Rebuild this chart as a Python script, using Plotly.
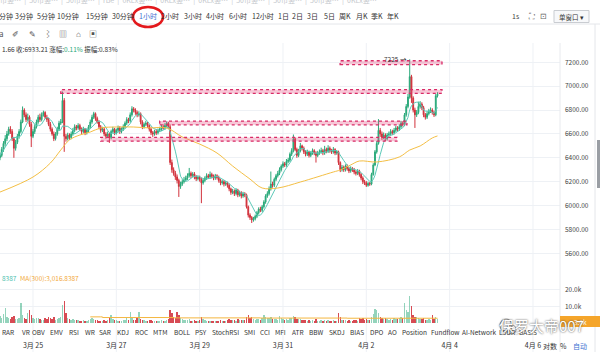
import pandas as pd
import plotly.graph_objects as go

# ---------------- data: BTC hourly candles, 2020-03-24 05:00 onward ----------------
open_ = [6400,6420,6470,6520,6560,6600,6640,6620,6560,6480,
         6530,6580,6620,6700,6800,6760,6720,6740,6680,6580,
         6620,6660,6700,6740,6720,6760,6780,6740,6720,6680,
         6640,6600,6560,6600,6640,6690,6700,6880,6580,6560,
         6590,6570,6600,6630,6660,6650,6670,6640,6620,6640,
         6610,6630,6660,6700,6740,6770,6730,6700,6660,6630,
         6640,6600,6580,6600,6570,6620,6640,6610,6630,6650,
         6620,6640,6660,6690,6720,6710,6760,6810,6800,6780,
         6760,6770,6700,6660,6680,6690,6670,6640,6610,6600,
         6620,6610,6630,6640,6660,6650,6670,6690,6660,6360,
         6300,6270,6240,6210,6160,6180,6200,6215,6230,6250,
         6270,6250,6265,6240,6225,6235,6220,6190,6210,6230,
         6250,6240,6260,6245,6230,6250,6235,6210,6190,6200,
         6180,6190,6170,6140,6110,6120,6100,6130,6090,6110,
         6080,6100,6090,5990,5920,5900,5880,5890,5910,5940,
         5970,5960,5990,6030,6080,6100,6140,6180,6170,6220,
         6250,6270,6300,6330,6350,6340,6370,6380,6430,6460,
         6560,6470,6420,6460,6500,6480,6450,6430,6450,6420,
         6440,6460,6440,6420,6440,6450,6460,6440,6470,6455,
         6480,6460,6450,6470,6440,6450,6360,6300,6320,6300,
         6330,6310,6290,6310,6300,6280,6270,6290,6260,6230,
         6200,6190,6170,6185,6180,6260,6340,6450,6520,6630,
         6600,6570,6590,6560,6590,6600,6620,6610,6630,6650,
         6640,6660,6690,6680,6760,6830,6910,7080,6900,6800,
         6760,6780,6830,6850,6820,6760,6740,6770,6790,6800,
         6780,6760,6920]
high = [6445,6490,6540,6590,6625,6660,6665,6640,6575,6550,
        6600,6640,6720,6830,6815,6780,6770,6755,6700,6640,
        6680,6720,6760,6770,6780,6795,6790,6760,6735,6700,
        6655,6620,6615,6660,6710,6725,6955,6900,6600,6610,
        6605,6620,6650,6680,6675,6690,6685,6655,6660,6650,
        6645,6675,6720,6760,6785,6780,6745,6715,6675,6660,
        6655,6615,6620,6610,6635,6660,6650,6645,6670,6665,
        6655,6680,6705,6740,6735,6780,6832,6825,6815,6795,
        6790,6780,6715,6695,6710,6700,6680,6655,6625,6635,
        6640,6645,6660,6675,6680,6690,6705,6700,6680,6385,
        6320,6290,6260,6225,6200,6220,6240,6250,6270,6315,
        6285,6280,6280,6255,6250,6250,6235,6225,6245,6270,
        6265,6285,6275,6260,6265,6262,6250,6225,6215,6212,
        6205,6200,6185,6150,6140,6135,6145,6140,6125,6120,
        6115,6112,6100,6000,5935,5912,5905,5925,5955,5985,
        5990,6005,6045,6095,6120,6160,6285,6200,6235,6265,
        6290,6320,6345,6370,6365,6390,6400,6445,6480,6595,
        6570,6485,6475,6525,6510,6495,6465,6468,6460,6455,
        6478,6472,6455,6458,6470,6485,6475,6500,6485,6505,
        6495,6475,6490,6480,6465,6460,6370,6340,6335,6345,
        6345,6325,6328,6322,6315,6295,6305,6300,6272,6245,
        6215,6205,6200,6198,6275,6355,6465,6540,6724,6650,
        6620,6612,6605,6608,6620,6640,6635,6650,6668,6665,
        6680,6710,6705,6775,6850,6935,7225,7095,6915,6820,
        6800,6870,6875,6865,6835,6775,6790,6810,6822,6815,
        6795,6935,6950]
low = [6380,6405,6450,6500,6540,6585,6600,6540,6400,6460,
       6515,6560,6605,6690,6740,6700,6705,6660,6490,6565,
       6600,6645,6685,6700,6705,6745,6725,6700,6665,6620,
       6585,6540,6545,6585,6625,6675,6690,6450,6535,6545,
       6550,6555,6585,6615,6630,6635,6625,6600,6605,6590,
       6595,6615,6645,6685,6725,6710,6685,6640,6610,6615,
       6580,6560,6565,6525,6555,6605,6590,6595,6615,6600,
       6605,6625,6645,6675,6690,6695,6745,6780,6760,6740,
       6745,6680,6640,6645,6665,6650,6620,6590,6575,6585,
       6590,6595,6615,6625,6635,6635,6655,6640,6340,6275,
       6250,6215,6185,6072,6140,6165,6185,6200,6215,6235,
       6230,6235,6220,6205,6210,6200,6020,6175,6195,6215,
       6222,6225,6228,6212,6215,6218,6192,6170,6175,6160,
       6165,6150,6120,6090,6095,6080,6085,6070,6075,6060,
       6065,6070,5975,5900,5880,5854,5865,5875,5895,5925,
       5945,5945,5975,6015,6065,6085,6125,6150,6155,6205,
       6235,6255,6285,6315,6322,6325,6355,6365,6415,6445,
       6455,6400,6405,6445,6462,6432,6412,6415,6402,6405,
       6425,6422,6360,6405,6425,6435,6422,6425,6438,6440,
       6442,6432,6435,6422,6425,6340,6280,6285,6282,6285,
       6292,6272,6275,6282,6262,6252,6255,6242,6212,6180,
       6172,6156,6158,6165,6170,6250,6330,6435,6510,6575,
       6550,6555,6540,6545,6575,6585,6592,6595,6615,6622,
       6625,6645,6662,6665,6745,6815,6895,6860,6780,6650,
       6742,6765,6812,6800,6740,6720,6725,6755,6775,6762,
       6742,6748,6905]
close = [6420,6470,6520,6560,6600,6640,6620,6560,6480,6530,
         6580,6620,6700,6800,6760,6720,6740,6680,6580,6620,
         6660,6700,6740,6720,6760,6780,6740,6720,6680,6640,
         6600,6560,6600,6640,6690,6700,6880,6580,6560,6590,
         6570,6600,6630,6660,6650,6670,6640,6620,6640,6610,
         6630,6660,6700,6740,6770,6730,6700,6660,6630,6640,
         6600,6580,6600,6570,6620,6640,6610,6630,6650,6620,
         6640,6660,6690,6720,6710,6760,6810,6800,6780,6760,
         6770,6700,6660,6680,6690,6670,6640,6610,6600,6620,
         6610,6630,6640,6660,6650,6670,6690,6660,6360,6300,
         6270,6240,6210,6160,6180,6200,6215,6230,6250,6270,
         6250,6265,6240,6225,6235,6220,6190,6210,6230,6250,
         6240,6260,6245,6230,6250,6235,6210,6190,6200,6180,
         6190,6170,6140,6110,6120,6100,6130,6090,6110,6080,
         6100,6090,5990,5920,5900,5880,5890,5910,5940,5970,
         5960,5990,6030,6080,6100,6140,6180,6170,6220,6250,
         6270,6300,6330,6350,6340,6370,6380,6430,6460,6560,
         6470,6420,6460,6500,6480,6450,6430,6450,6420,6440,
         6460,6440,6420,6440,6450,6460,6440,6470,6455,6480,
         6460,6450,6470,6440,6450,6360,6300,6320,6300,6330,
         6310,6290,6310,6300,6280,6270,6290,6260,6230,6200,
         6190,6170,6185,6180,6260,6340,6450,6520,6630,6600,
         6570,6590,6560,6590,6600,6620,6610,6630,6650,6640,
         6660,6690,6680,6760,6830,6910,7080,6900,6800,6760,
         6780,6830,6850,6820,6760,6740,6770,6790,6800,6780,
         6760,6920,6933]
volume_k = [4.5,3.0,5.5,9.0,4.0,3.2,2.5,3.8,4.5,2.8,
            2.6,3.0,12.0,5.0,3.5,2.8,6.0,7.7,5.0,3.0,
            2.5,3.0,3.4,2.8,2.2,2.0,3.5,2.4,4.0,3.0,
            2.6,3.8,2.2,2.5,3.0,4.0,11.0,13.0,6.0,3.0,
            2.6,2.0,2.4,2.0,1.8,2.2,1.6,1.5,1.8,1.5,
            1.4,2.0,2.8,3.0,2.4,2.2,1.8,1.6,1.5,1.7,
            2.0,1.6,1.8,3.5,5.0,2.5,2.0,1.8,1.5,1.6,
            1.4,1.8,2.2,3.0,2.0,6.5,3.0,2.2,2.0,3.0,
            6.5,2.5,2.2,1.8,1.5,1.6,2.2,1.8,1.5,1.4,
            1.3,1.6,1.4,1.8,1.5,1.6,2.0,2.5,8.0,6.0,
            4.0,3.5,6.6,5.0,3.0,2.5,2.0,2.2,1.8,2.4,
            1.6,1.5,1.8,1.4,1.6,2.0,4.0,2.5,1.8,1.5,
            1.4,1.6,1.3,1.5,1.4,1.2,1.6,1.8,1.4,1.7,
            1.5,2.0,2.6,2.2,1.8,2.0,1.6,2.4,1.8,2.2,
            1.8,2.0,4.0,5.0,3.0,3.6,2.6,2.0,2.4,2.8,
            2.2,3.0,5.0,4.0,3.2,3.0,3.6,2.4,2.8,2.6,
            2.2,4.5,3.0,2.6,2.0,2.4,2.2,3.0,3.2,4.2,
            3.6,2.8,2.4,2.6,2.0,1.8,2.2,1.6,1.8,1.5,
            1.8,1.6,2.4,1.5,1.4,1.8,1.5,2.0,1.6,2.2,
            1.6,1.5,1.8,1.6,1.4,6.0,3.6,2.2,1.8,2.0,
            1.6,1.8,1.5,1.6,2.0,1.8,1.5,3.4,2.6,3.0,
            2.2,2.4,1.8,2.0,4.0,5.5,8.7,8.2,6.0,4.0,
            3.0,2.6,3.2,2.4,2.0,2.6,2.2,3.0,2.4,2.8,
            3.0,4.0,3.2,12.0,8.0,6.5,16.0,10.0,5.0,4.0,
            3.6,3.0,2.6,2.4,3.2,2.2,2.0,2.4,2.2,5.0,
            2.6,4.0,2.4]

# slow moving average on price, read at selected candles (index, value)
slow_ma_idx = [0, 19, 29, 35, 40, 46, 52, 58, 67, 77, 86, 96, 105, 115, 125, 134,
               144, 151, 160, 173, 192, 196, 202, 207, 217, 230, 236, 242, 249, 252]
slow_ma = [6113, 6239, 6356, 6465, 6550, 6591, 6616, 6650, 6658, 6658, 6650, 6650,
           6575, 6515, 6440, 6331, 6222, 6147, 6147, 6197, 6281, 6298, 6340, 6373,
           6365, 6407, 6465, 6499, 6566, 6583]

# volume MA(300), read at selected candles
vol_ma_idx = [52, 58, 59, 100, 150, 200, 252]
vol_ma_k = [3.9, 3.9, 3.5, 3.3, 3.2, 3.1, 3.016]

# user-drawn horizontal zones: price, start, end
zone_price = [7197, 6955, 6692, 6555]
zone_start = ["2020-04-01 08:54", "2020-03-25 16:00", "2020-03-28 01:00", "2020-03-26 15:00"]
zone_end = ["2020-04-03 19:36", "2020-04-03 19:36", "2020-04-02 23:24", "2020-04-02 17:40"]

price_ticks = [5600, 5800, 6000, 6200, 6400, 6600, 6800, 7000, 7200]
date_ticks = ["2020-03-25", "2020-03-27", "2020-03-29", "2020-03-31",
              "2020-04-02", "2020-04-04", "2020-04-06"]
date_labels = ["3月 25", "3月 27", "3月 29", "3月 31", "4月 2", "4月 4", "4月 6"]

timeframes = ["分钟", "3分钟", "5分钟", "10分钟", "15分钟", "30分钟", "1小时", "2小时", "3小时",
              "4小时", "6小时", "12小时", "1日", "2日", "3日", "5日", "周K", "月K", "季K", "年K"]
timeframe_x = [5.5, 24, 46, 68, 97, 123, 148, 170, 193, 215, 237.5, 262.5, 283, 297,
               313, 329, 345, 361.5, 377, 392.5]
indicators = ["RAR", "VR", "OBV", "EMV", "RSI", "WR", "SAR", "KDJ", "ROC", "MTM", "BOLL",
              "PSY", "StochRSI", "SMI", "CCI", "MFI", "ATR", "BBW", "SKDJ", "BIAS", "DPO",
              "AO", "Position", "Fundflow", "AI-Network", "LSUR", "BASIS"]
indicator_x = [0, 20, 30, 48, 67, 83, 97, 115, 133, 151, 172, 193, 210, 242, 258, 273,
               290, 307, 327, 348, 368, 386, 400, 429, 460, 497, 517]

# ---------------- styling ----------------
W, H = 600, 352
UP, DOWN = "#2aa97a", "#d2323c"
FONT = "Noto Sans CJK SC, Noto Sans, sans-serif"
GRID = "#eef1f5"


def px_x(v):
    return v / W


def px_y(v):
    return 1 - v / H


times = pd.date_range("2020-03-24 05:00", periods=len(close), freq="h")
fast_ma = pd.Series(close).rolling(7, min_periods=1).mean()
vol_colors = ["rgba(42,169,122,0.5)" if c >= o else "rgba(210,50,60,0.88)"
              for o, c in zip(open_, close)]

fig = go.Figure()
fig.add_trace(go.Candlestick(
    x=times, open=open_, high=high, low=low, close=close,
    increasing=dict(line=dict(color=UP, width=1), fillcolor=UP),
    decreasing=dict(line=dict(color=DOWN, width=1), fillcolor=DOWN),
    whiskerwidth=0, xaxis="x", yaxis="y", hoverinfo="skip"))
fig.add_trace(go.Scatter(x=times, y=fast_ma, mode="lines",
                         line=dict(color="#5cc9b8", width=1), xaxis="x", yaxis="y"))
fig.add_trace(go.Scatter(x=[times[i] for i in slow_ma_idx], y=slow_ma, mode="lines",
                         line=dict(color="#f4bf45", width=1, shape="spline"),
                         xaxis="x", yaxis="y"))
fig.add_trace(go.Bar(x=times, y=volume_k, marker=dict(color=vol_colors, line=dict(width=0)),
                     width=3600 * 1000 * 0.8, xaxis="x2", yaxis="y2"))
fig.add_trace(go.Scatter(x=[times[i] for i in vol_ma_idx], y=vol_ma_k, mode="lines",
                         line=dict(color="#f4b63f", width=1, shape="hv"),
                         xaxis="x2", yaxis="y2"))

shapes = []
# vertical grid through all panes
for d in date_ticks:
    shapes.append(dict(type="line", xref="x", yref="paper", x0=d, x1=d,
                       y0=0, y1=px_y(43), line=dict(color=GRID, width=1), layer="below"))
# drawn price zones
for p, s, e in zip(zone_price, zone_start, zone_end):
    shapes.append(dict(type="rect", xref="x", yref="y", x0=s, x1=e, y0=p - 16, y1=p + 16,
                       line=dict(color="#d92a66", width=1.3, dash="dot"),
                       fillcolor="rgba(230,80,130,0.32)", layer="above"))
# frame lines
shapes += [
    dict(type="line", xref="paper", yref="paper", x0=0, x1=1, y0=px_y(24), y1=px_y(24),
         line=dict(color="#e4e6ea", width=1)),
    dict(type="line", xref="paper", yref="paper", x0=px_x(560), x1=px_x(560), y0=0,
         y1=px_y(43), line=dict(color="#e8eaee", width=1)),
    dict(type="line", xref="paper", yref="paper", x0=px_x(595), x1=px_x(595), y0=0,
         y1=px_y(24), line=dict(color="#e4e6ea", width=1)),
    # scroll handle on the right edge
    dict(type="rect", xref="paper", yref="paper", x0=px_x(597), x1=px_x(600),
         y0=px_y(188), y1=px_y(140), fillcolor="#9a9ea4", line=dict(width=0)),
    # red ring round the 1h selector
    dict(type="circle", xref="paper", yref="paper", x0=px_x(133), x1=px_x(163),
         y0=px_y(27), y1=px_y(7), line=dict(color="#e3191c", width=2.6)),
    # window-mode dropdown box
    dict(type="rect", xref="paper", yref="paper", x0=px_x(554), x1=px_x(589),
         y0=px_y(22.5), y1=px_y(10.5), line=dict(color="#c9ccd1", width=1),
         fillcolor="#f7f8fa"),
    # current-volume tag
    dict(type="rect", xref="paper", yref="paper", x0=px_x(560), x1=px_x(600),
         y0=px_y(327), y1=px_y(316), fillcolor="#f5a52a", line=dict(width=0)),
    # watermark logo
    dict(type="circle", xref="paper", yref="paper", x0=px_x(500), x1=px_x(512),
         y0=px_y(332), y1=px_y(319), line=dict(color="#9a9a9a", width=1.2)),
    dict(type="circle", xref="paper", yref="paper", x0=px_x(507), x1=px_x(516),
         y0=px_y(334), y1=px_y(325), line=dict(color="#9a9a9a", width=1.2)),
]

ann = []


def label(text, x, y, size=7, color="#333", anchor="center", **kw):
    ann.append(dict(text=text, x=px_x(x), y=px_y(y), xref="paper", yref="paper",
                    showarrow=False, xanchor=anchor, yanchor="middle",
                    font=dict(family=FONT, size=size, color=color), **kw))


# faint tab strip along the very top
label("币竖…  |  50币竖…  |  50币竖…  |  rBe  |  0KEx竖…  |  0KEx竖…  |  0KEx竖…  |  50币竖…  |  50币竖…  |  50币竖…  |  0KEx竖…",
      -2, 0, size=7, color="#c4c7cc", anchor="left")
for t, x in zip(timeframes, timeframe_x):
    label(t, x, 16, color="#3b6fd1" if t == "1小时" else "#333")
label("1s", 516, 16, color="#444")
label("⛶", 531, 16, size=8, color="#666")
label("⊡", 543, 16, size=8, color="#666")
label("单窗口 ▾", 571, 16.5, size=6.5, color="#333")
# drawing toolbar
for g, x in zip(["a", "✐", "✎", "⌇", "▥", "⌂", "▣"], [1.5, 15, 32, 48, 63, 78, 93]):
    label(g, x, 33, size=8, color="#555")
label("1.66 收:6933.21 涨幅:<span style='color:#2aa97a'>0.11%</span> 振幅:0.83%",
      0, 48.5, size=6.5, color="#333", anchor="left")
# high marker
ann.append(dict(text="7225 →", x=times[236], y=7225, xref="x", yref="y", showarrow=False,
                xanchor="right", yanchor="middle", xshift=-1,
                font=dict(family=FONT, size=6.5, color="#333")))
# volume legend
label("8387", 0, 278, size=6.5, color="#4fc1b0", anchor="left")
label("MA(300):3,016.8387", 18, 278, size=6.5, color="#f2a93b", anchor="left")
# indicator tabs
for t, x in zip(indicators, indicator_x):
    label(t, x, 332, size=6.5, color="#333", anchor="left")
label("对数", 550, 346, color="#333")
label("%", 563, 346, color="#333")
label("自动", 580, 346, color="#3b6fd1")
label("3.0k", 580, 321.5, size=6.5, color="white")
# watermark
label("保罗大帝007", 541, 325, size=15, color="white")
ann[-1]["font"]["shadow"] = "0px 0px 2px #333"

fig.update_layout(
    width=W, height=H, margin=dict(l=0, r=0, t=0, b=0),
    paper_bgcolor="white", plot_bgcolor="rgba(0,0,0,0)", showlegend=False,
    font=dict(family=FONT, size=7, color="#333"),
    xaxis=dict(domain=[0, 560 / W], range=["2020-03-24 05:00", "2020-04-06 15:34"],
               type="date", showticklabels=False, showgrid=False, zeroline=False,
               rangeslider=dict(visible=False), anchor="y", fixedrange=True),
    yaxis=dict(domain=[px_y(265), px_y(42)], range=[5502, 7370], side="right", anchor="x",
               tickvals=price_ticks, ticktext=[f"{v:.2f}" for v in price_ticks],
               showgrid=True, gridcolor=GRID, zeroline=False, ticks="",
               ticklabelstandoff=4, tickfont=dict(family=FONT, size=6.5, color="#444")),
    xaxis2=dict(domain=[0, 560 / W], matches="x", anchor="y2", type="date",
                tickvals=date_ticks, ticktext=date_labels, showgrid=False, zeroline=False,
                ticks="", ticklabelstandoff=16,
                tickfont=dict(family=FONT, size=7, color="#333")),
    yaxis2=dict(domain=[px_y(324), px_y(266)], range=[-0.3, 33.8], side="right",
                anchor="x2", tickvals=[10, 20], ticktext=["10.0k", "20.0k"],
                showgrid=True, gridcolor=GRID, zeroline=False, ticks="",
                ticklabelstandoff=4, tickfont=dict(family=FONT, size=6.5, color="#444")),
    shapes=shapes, annotations=ann, bargap=0,
)

fig.write_html("out.html")
